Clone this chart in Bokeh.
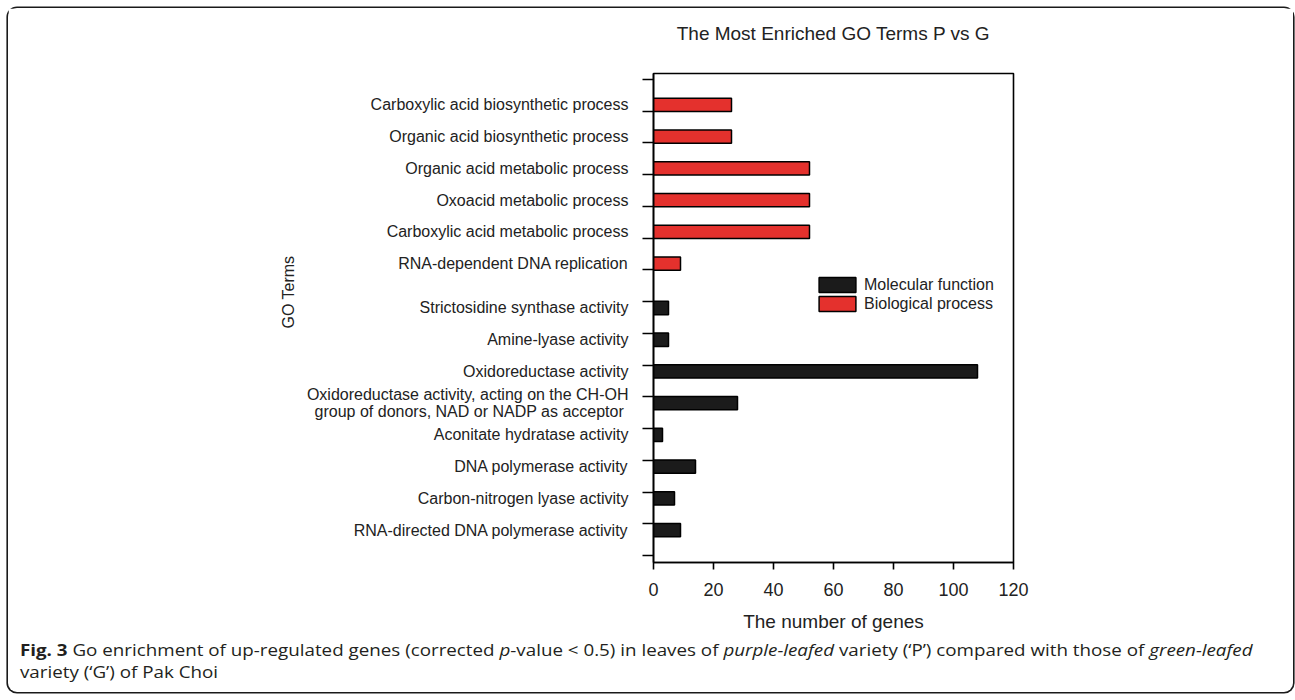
import math
from bokeh.plotting import figure
from bokeh.models import (ColumnDataSource, Range1d, FixedTicker, LinearAxis,
                          Legend, LegendItem, Title, Div)
from bokeh.layouts import column
from bokeh.embed import file_html
from bokeh.resources import INLINE

# ---- data -------------------------------------------------------------
bp_terms = [
    "Carboxylic acid biosynthetic process",
    "Organic acid biosynthetic process",
    "Organic acid metabolic process",
    "Oxoacid metabolic process",
    "Carboxylic acid metabolic process",
    "RNA-dependent DNA replication",
]
bp_counts = [26, 26, 52, 52, 52, 9]

mf_terms = [
    "Strictosidine synthase activity",
    "Amine-lyase activity",
    "Oxidoreductase activity",
    "Oxidoreductase activity, acting on the CH-OH\ngroup of  donors, NAD or NADP as acceptor",
    "Aconitate hydratase activity",
    "DNA polymerase activity",
    "Carbon-nitrogen lyase activity",
    "RNA-directed DNA polymerase activity",
]
mf_counts = [5, 5, 108, 28, 3, 14, 7, 9]

x_ticks = [0, 20, 40, 60, 80, 100, 120]

title_text = "The Most Enriched GO Terms P vs G"
x_title = "The number of genes"
y_title = "GO Terms"
legend_labels = ["Molecular function", "Biological process"]

caption_html = (
    "<b>Fig. 3</b> Go enrichment of up-regulated genes (corrected <i>p</i>-value "
    "&lt; 0.5) in leaves of <i>purple-leafed</i> variety (\u2018P\u2019) compared "
    "with those of <i>green-leafed</i><br>variety (\u2018G\u2019) of Pak Choi"
)

# ---- geometry (pixels, figure coordinates) --------------------------------
W, H = 1285, 628
FL, FR, FT, FB = 645, 1005, 65, 554      # plot frame edges
N_SLOTS = 15
UNIT = 476 / N_SLOTS                     # pixels per category slot
Y0 = -7 / UNIT
Y1 = N_SLOTS + 6 / UNIT

# bars sit just beside their tick: biological process above, molecular function below
n_mf = len(mf_terms)
bp_pos = [n_mf + len(bp_terms) - i + 0.2 for i in range(len(bp_terms))]
mf_pos = [n_mf - j - 0.2 for j in range(n_mf)]

RED = "#e4312d"
BLACK = "#1b1b1b"
TXT = "#222222"
FONT = "Liberation Sans"

p = figure(width=W, height=H, output_backend="svg", toolbar_location=None,
           x_range=Range1d(x_ticks[0], x_ticks[-1]), y_range=Range1d(Y0, Y1),
           min_border_left=FL, min_border_right=W - FR,
           min_border_top=FT, min_border_bottom=H - FB,
           y_axis_location=None, title_location=None)
p.background_fill_color = "white"
p.border_fill_color = "white"
p.grid.visible = False
p.outline_line_color = "black"
p.outline_line_width = 1.6

bp_src = ColumnDataSource(dict(y=bp_pos, right=bp_counts))
mf_src = ColumnDataSource(dict(y=mf_pos, right=mf_counts))

r_bp = p.hbar(y="y", left=0, right="right", height=0.42, source=bp_src,
              fill_color=RED, line_color="black", line_width=1.5)
r_mf = p.hbar(y="y", left=0, right="right", height=0.42, source=mf_src,
              fill_color=BLACK, line_color="black", line_width=1.5)

# x axis
xa = p.xaxis[0]
xa.ticker = FixedTicker(ticks=x_ticks)
xa.axis_line_width = 1.6
xa.major_tick_line_width = 1.6
xa.major_tick_out = 7
xa.major_tick_in = 0
xa.minor_tick_out = 0
xa.minor_tick_in = 0
xa.major_label_text_font = FONT
xa.major_label_text_font_size = "18px"
xa.major_label_text_color = TXT
xa.major_label_standoff = 13
xa.axis_label = x_title
xa.axis_label_text_font = FONT
xa.axis_label_text_font_size = "19px"
xa.axis_label_text_font_style = "normal"
xa.axis_label_text_color = TXT
xa.axis_label_standoff = 12

# chart heading carried by a bare axis above the frame
ta = LinearAxis(ticker=FixedTicker(ticks=[]), axis_line_color=None,
                major_tick_out=0, major_tick_in=0, minor_tick_out=0, minor_tick_in=0,
                major_label_text_font_size="0px", major_label_standoff=0,
                axis_label=title_text, axis_label_standoff=30,
                axis_label_text_font=FONT, axis_label_text_font_size="19px",
                axis_label_text_font_style="normal", axis_label_text_color=TXT)
p.add_layout(ta, "above")

# y axis with the slot ticks
slots = list(range(N_SLOTS + 1))
ya = LinearAxis(ticker=FixedTicker(ticks=slots),
                major_label_overrides={i: "" for i in slots},
                major_label_text_font_size="0px", major_label_standoff=0,
                axis_line_width=1.6, major_tick_line_width=1.6,
                major_tick_out=11, major_tick_in=0,
                minor_tick_out=0, minor_tick_in=0)
p.add_layout(ya, "left")

# term names beside each bar
term_pos = bp_pos + mf_pos
term_names = bp_terms + mf_terms
yt = LinearAxis(ticker=FixedTicker(ticks=term_pos),
                major_label_overrides=dict(zip(term_pos, term_names)),
                major_label_text_font=FONT, major_label_text_font_size="16px",
                major_label_text_color=TXT, major_label_text_line_height=1.0,
                major_label_standoff=14,
                axis_line_color=None, major_tick_line_color=None,
                major_tick_out=0, major_tick_in=0,
                minor_tick_out=0, minor_tick_in=0)
p.add_layout(yt, "left")

p.add_layout(Title(text=y_title, align="left", offset=234, standoff=14,
                   text_font=FONT, text_font_size="16px",
                   text_font_style="normal", text_color=TXT), "left")

legend = Legend(items=[LegendItem(label=legend_labels[0], renderers=[r_mf]),
                       LegendItem(label=legend_labels[1], renderers=[r_bp])],
                location=(161, 249), padding=0, margin=0, spacing=0,
                glyph_width=46, glyph_height=19, label_height=19,
                label_standoff=4, label_text_font=FONT,
                label_text_font_size="16px", label_text_color=TXT,
                background_fill_alpha=0, border_line_alpha=0)
p.add_layout(legend)

caption = Div(
    text=('<div style="padding:0 0 0 10.5px; margin-top:3px; white-space:nowrap; '
          'transform:scaleX(1.138); transform-origin:0 0;">' + caption_html + '</div>'),
    width=W, height=56, margin=0,
    styles={"font-family": "'Open Sans', sans-serif",
            "font-size": "16.5px", "line-height": "22px",
            "color": "#231f20", "overflow": "visible"})

page = column(p, caption, margin=(8, 2, 8, 8), spacing=0,
              styles={"box-shadow": "0 0 0 1.6px #1a1a1a",
                      "border-radius": "9px"})

open("out.html", "w").write(file_html(page, INLINE))
